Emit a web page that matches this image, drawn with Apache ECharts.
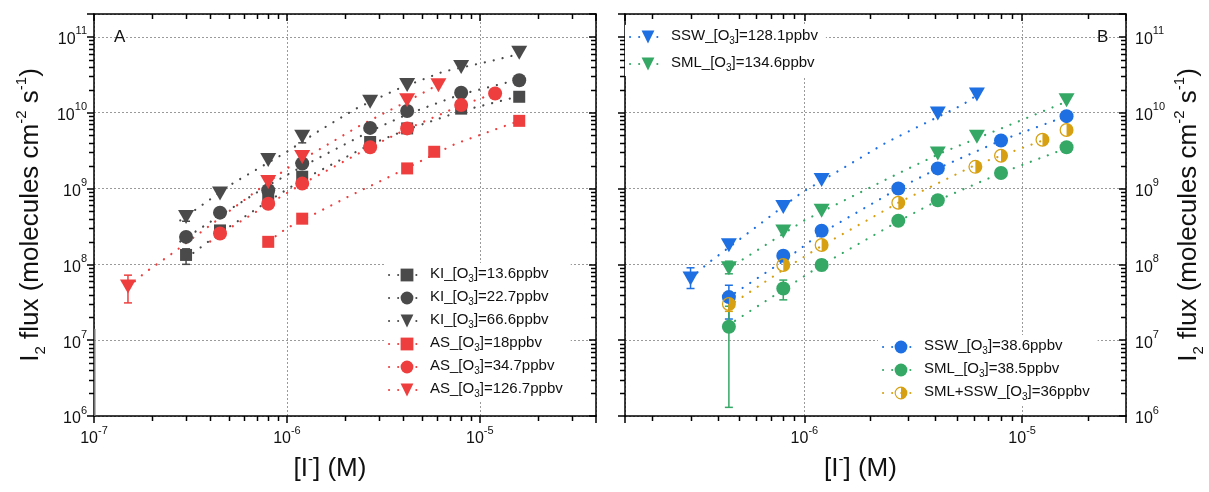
<!DOCTYPE html>
<html>
<head>
<meta charset="utf-8">
<script src="https://cdn.jsdelivr.net/npm/echarts@6.0.0/dist/echarts.min.js"></script>
<style>
  html, body { margin: 0; background: #fff; }
  #chart { width: 1209px; height: 492px; }
</style>
</head>
<body>
<div id="chart"></div>
<script>
// ---- panel A: KI and AS ----
const kiLow = [[3e-7, 1.33e8], [4.5e-7, 2.8e8], [8e-7, 7.4e8], [1.2e-6, 1.43e9], [2.7e-6, 4.1e9], [4.2e-6, 6.2e9], [8e-6, 1.13e10], [1.6e-5, 1.62e10]];
const kiMid = [[3e-7, 2.3e8], [4.5e-7, 4.8e8], [8e-7, 9.5e8], [1.2e-6, 2.14e9], [2.7e-6, 6.3e9], [4.2e-6, 1.05e10], [8e-6, 1.83e10], [1.6e-5, 2.68e10]];
const kiHigh = [[3e-7, 4.2e8], [4.5e-7, 8.6e8], [8e-7, 2.37e9], [1.2e-6, 4.8e9], [2.7e-6, 1.39e10], [4.2e-6, 2.31e10], [8e-6, 4.0e10], [1.6e-5, 6.15e10]];
const asLow = [[8e-7, 1.98e8], [1.2e-6, 4.0e8], [4.2e-6, 1.84e9], [5.8e-6, 3.05e9], [1.6e-5, 7.8e9]];
const asMid = [[4.5e-7, 2.55e8], [8e-7, 6.3e8], [1.2e-6, 1.16e9], [2.7e-6, 3.5e9], [4.2e-6, 6.2e9], [8e-6, 1.26e10], [1.2e-5, 1.79e10]];
const asHigh = [[1.5e-7, 5.1e7], [8e-7, 1.22e9], [1.2e-6, 2.6e9], [4.2e-6, 1.46e10], [6.1e-6, 2.3e10]];

// dotted fit curves
const kiLowFit = [[3e-7, 1.2e8], [4.5e-7, 2.6e8], [8e-7, 6.8e8], [1.2e-6, 1.3e9], [2.7e-6, 3.8e9], [4.2e-6, 6.0e9], [8e-6, 1.05e10], [1.6e-5, 1.65e10]];
const kiMidFit = [[2.8e-7, 2.0e8], [4.5e-7, 4.4e8], [8e-7, 1.1e9], [1.2e-6, 1.95e9], [2.7e-6, 5.7e9], [4.2e-6, 9.5e9], [8e-6, 1.75e10], [1.6e-5, 2.75e10]];
const kiHighFit = [[2.8e-7, 3.8e8], [5.3e-7, 1.19e9], [1e-6, 3.05e9], [1.44e-6, 5.6e9], [2.28e-6, 1.13e10], [3.7e-6, 2.02e10], [6.5e-6, 3.49e10], [1.19e-5, 4.92e10], [1.63e-5, 6.0e10]];
const asLowFit = [[8e-7, 2.0e8], [1e-6, 3.0e8], [2.1e-6, 7.9e8], [3.4e-6, 1.43e9], [7.5e-6, 3.9e9], [1.42e-5, 7.0e9], [1.6e-5, 7.8e9]];
const asMidFit = [[4e-7, 2.0e8], [4.5e-7, 2.5e8], [8e-7, 6.2e8], [1.2e-6, 1.15e9], [2.7e-6, 3.5e9], [4.2e-6, 6.1e9], [8e-6, 1.25e10], [1.2e-5, 1.8e10]];
const asHighFit = [[1.5e-7, 5.0e7], [1.84e-7, 7.8e7], [2.48e-7, 1.33e8], [1e-6, 1.84e9], [2.4e-6, 6.8e9], [3.86e-6, 1.26e10], [6.2e-6, 2.4e10]];

// error bars [x, low, high]
const kiLowErr = [[3e-7, 1.0e8, 1.6e8]];
const kiHighErr = [[3e-7, 3.7e8, 4.8e8], [1.2e-6, 4.0e9, 5.4e9]];
const asHighErr = [[1.5e-7, 3.1e7, 7.2e7]];
const edgeErr = [[1e-7, 1e6, 1.4e7]];

// ---- panel B: SSW / SML ----
const sswHigh = [[3e-7, 6.5e7], [4.5e-7, 1.79e8], [8e-7, 5.7e8], [1.2e-6, 1.29e9], [4.1e-6, 9.75e9], [6.2e-6, 1.74e10]];
const smlHigh = [[4.5e-7, 8.9e7], [8e-7, 2.7e8], [1.2e-6, 5.1e8], [4.1e-6, 2.9e9], [6.2e-6, 4.8e9], [1.6e-5, 1.46e10]];
const sswLow = [[4.5e-7, 3.7e7], [8e-7, 1.3e8], [1.2e-6, 2.77e8], [2.7e-6, 1.0e9], [4.1e-6, 1.84e9], [8e-6, 4.3e9], [1.6e-5, 9.0e9]];
const smlLow = [[4.5e-7, 1.5e7], [8e-7, 4.8e7], [1.2e-6, 9.8e7], [2.7e-6, 3.75e8], [4.1e-6, 7.0e8], [8e-6, 1.6e9], [1.6e-5, 3.5e9]];
const mix = [[4.5e-7, 3.0e7], [8e-7, 9.8e7], [1.2e-6, 1.8e8], [2.7e-6, 6.5e8], [6.1e-6, 1.93e9], [8e-6, 2.7e9], [1.24e-5, 4.4e9], [1.6e-5, 5.9e9]];

const sswHighFit = [[3e-7, 6.5e7], [3.6e-7, 1.03e8], [5e-7, 2.1e8], [9.7e-7, 8.8e8], [2.4e-6, 4.1e9], [5.3e-6, 1.26e10], [6.2e-6, 1.7e10]];
const smlHighFit = [[4.8e-7, 1.0e8], [1e-6, 3.8e8], [2.7e-6, 1.58e9], [4.2e-6, 2.9e9], [1.05e-5, 8.5e9], [1.6e-5, 1.4e10]];
const sswLowFit = [[4.8e-7, 4.2e7], [8e-7, 1.1e8], [1.2e-6, 2.6e8], [2.7e-6, 1.0e9], [4.2e-6, 1.9e9], [8e-6, 4.3e9], [1.6e-5, 9.0e9]];
const smlLowFit = [[4.8e-7, 1.8e7], [1e-6, 7.0e7], [1.2e-6, 9.8e7], [2.7e-6, 3.7e8], [4.2e-6, 7.2e8], [8e-6, 1.6e9], [1.6e-5, 3.4e9]];
const mixFit = [[4.8e-7, 3.2e7], [8e-7, 8.5e7], [1.2e-6, 1.75e8], [2.7e-6, 6.5e8], [6e-6, 2.0e9], [8e-6, 2.7e9], [1.3e-5, 4.5e9]];

const sswHighErr = [[3e-7, 4.8e7, 9.0e7]];
const smlHighErr = [[4.5e-7, 7.5e7, 1.1e8]];
const sswLowErr = [[4.5e-7, 1.9e7, 5.3e7], [8e-7, 1.1e8, 1.5e8]];
const smlLowErr = [[4.5e-7, 1.3e6, 2.8e7], [8e-7, 3.4e7, 6.2e7], [1.2e-6, 8.3e7, 1.15e8]];
const mixErr = [[4.5e-7, 2.4e7, 4.3e7]];

const namesA = ["KI_[O3]=13.6ppbv", "KI_[O3]=22.7ppbv", "KI_[O3]=66.6ppbv", "AS_[O3]=18ppbv", "AS_[O3]=34.7ppbv", "AS_[O3]=126.7ppbv"];
const namesBTop = ["SSW_[O3]=128.1ppbv", "SML_[O3]=134.6ppbv"];
const namesBBottom = ["SSW_[O3]=38.6ppbv", "SML_[O3]=38.5ppbv", "SML+SSW_[O3]=36ppbv"];

// axis ranges
const xRangeA = [1e-7, 4e-5];
const xRangeB = [1.5e-7, 3e-5];
const yRange = [1e6, 2e11];
const minorMantissa = [2, 3, 4, 5, 6, 7, 8, 9];

const FONT = "'Liberation Sans', Arial, Helvetica, sans-serif";
const grey = "#4a4a4a", red = "#ef3e3e", blue = "#1d6fe2", green = "#35a866", gold = "#d6a012";

const gridA = { left: 94, top: 14, width: 502, height: 402 };
const gridB = { left: 625, top: 14, width: 501, height: 402 };

const SQ = "rect";
const CI = "circle";
const TRI = "path://M0,0L10,0L5,8.66Z";
// ring + right half filled
const HALF = "path://M10,0A10,10 0 1,1 10,20A10,10 0 1,1 10,0Z M10,1.8A8.2,8.2 0 1,0 10,18.2A8.2,8.2 0 1,0 10,1.8Z M10,1.8A8.2,8.2 0 0,1 10,18.2Z";

// minor tick positions (2..9 x 10^n) inside a range
const minorValues = range => {
    const out = [];
    const e0 = Math.floor(Math.log10(range[0]));
    const e1 = Math.ceil(Math.log10(range[1]));
    for (let e = e0; e <= e1; e++) {
        for (const m of minorMantissa) {
            const v = m * Math.pow(10, e);
            if (v > range[0] * 1.0001 && v < range[1] * 0.9999) out.push(v);
        }
    }
    return out;
};

const fitLine = (name, data, color, symbol, ax) => ({
    name, type: "line", xAxisIndex: ax, yAxisIndex: ax, data,
    symbol, showSymbol: false, symbolSize: 13, silent: true, z: 1,
    lineStyle: { color, width: 2.2, type: [0.1, 9], cap: "round" },
    itemStyle: { color }
});

const points = (name, data, color, symbol, size, ax) => ({
    name, type: "scatter", xAxisIndex: ax, yAxisIndex: ax, data,
    symbol, symbolSize: size, z: 3,
    itemStyle: { color, opacity: 1 }
});

const errBars = (data, color, ax, cap = 4, width = 1.5) => ({
    type: "custom", xAxisIndex: ax, yAxisIndex: ax, data, z: 2, clip: true,
    encode: { x: 0, y: [1, 2] },
    itemStyle: { color },
    renderItem: (params, api) => {
        const x = api.value(0);
        const lo = api.coord([x, api.value(1)]);
        const hi = api.coord([x, api.value(2)]);
        const st = { stroke: color, lineWidth: width };
        const kids = [{ type: "line", shape: { x1: lo[0], y1: lo[1], x2: hi[0], y2: hi[1] }, style: st }];
        if (cap > 0) {
            kids.push({ type: "line", shape: { x1: lo[0] - cap, y1: lo[1], x2: lo[0] + cap, y2: lo[1] }, style: st });
            kids.push({ type: "line", shape: { x1: hi[0] - cap, y1: hi[1], x2: hi[0] + cap, y2: hi[1] }, style: st });
        }
        return { type: "group", children: kids };
    }
});

// 10^n tick labels
const sciLabel = v => {
    const e = Math.log10(v);
    if (Math.abs(e - Math.round(e)) > 1e-6) return "";
    return "{b|10}{p|" + Math.round(e) + "}";
};
const tickRich = {
    b: { fontSize: 16, lineHeight: 22, verticalAlign: "bottom", fontFamily: FONT, color: "#111" },
    p: { fontSize: 11, lineHeight: 11, verticalAlign: "top", fontFamily: FONT, color: "#111" }
};
const nameRich = {
    b: { fontSize: 26, lineHeight: 34, fontFamily: FONT, color: "#111" },
    p: { fontSize: 15, lineHeight: 15, verticalAlign: "top", fontFamily: FONT, color: "#111" },
    s: { fontSize: 15, lineHeight: 15, verticalAlign: "bottom", fontFamily: FONT, color: "#111" }
};
const legendRich = {
    b: { fontSize: 15, lineHeight: 18, verticalAlign: "top", fontFamily: FONT, color: "#111" },
    s: { fontSize: 10, lineHeight: 10, verticalAlign: "bottom", fontFamily: FONT, color: "#111" }
};
const legendFmt = name => "{b|" + name.replace("[O3]", "[O}{s|3}{b|]") + "}";

const splitStyle = { show: true, lineStyle: { color: "#9a9a9a", width: 1, type: [2, 2] } };
const axisLineStyle = { show: true, lineStyle: { color: "#000", width: 1.5 } };

const xAxisFor = (grid, range, top) => ({
    type: "log", logBase: 10, gridIndex: grid, min: range[0], max: range[1],
    position: top ? "top" : "bottom",
    axisLine: axisLineStyle,
    axisTick: { show: true, inside: !!top, length: 7, lineStyle: { color: "#000", width: 1.5 } },
    axisLabel: top ? { show: false } : { formatter: sciLabel, margin: 9, rich: tickRich },
    splitLine: top ? { show: false } : splitStyle,
    name: top ? "" : "{b|[I}{p|-}{b|] (M)}",
    nameLocation: "middle", nameGap: 36,
    nameTextStyle: { rich: nameRich, padding: [0, 30, 0, 0] }
});

const yAxisFor = (grid, right, labels, withSplit) => ({
    type: "log", logBase: 10, gridIndex: grid, min: yRange[0], max: yRange[1],
    position: right ? "right" : "left",
    axisLine: axisLineStyle,
    axisTick: { show: true, inside: right, length: 7, lineStyle: { color: "#000", width: 1.5 } },
    axisLabel: labels ? { formatter: sciLabel, margin: right ? 9 : 7, rich: tickRich } : { show: false },
    splitLine: withSplit ? splitStyle : { show: false },
    name: labels ? "{b|I}{s|2}{b| flux (molecules cm}{p|-2}{b| s}{p|-1}{b|)}" : "",
    nameLocation: "middle", nameGap: 46, nameRotate: 90,
    nameTextStyle: { rich: nameRich }
});

const legendBase = {
    orient: "vertical", itemWidth: 36, itemHeight: 16, itemGap: 5,
    selectedMode: false, backgroundColor: "#fff", padding: [3, 8, 3, 4],
    formatter: legendFmt, textStyle: { rich: legendRich }
};

const chart = echarts.init(document.getElementById("chart"));
chart.setOption({
    animation: false,
    backgroundColor: "#fff",
    title: [
        { text: "A", left: 109, top: 24, textStyle: { fontSize: 17, fontWeight: "normal", color: "#111", fontFamily: FONT } },
        { text: "B", left: 1092, top: 24, textStyle: { fontSize: 17, fontWeight: "normal", color: "#111", fontFamily: FONT } }
    ],
    grid: [gridA, gridB],
    xAxis: [
        xAxisFor(0, xRangeA, false),
        xAxisFor(1, xRangeB, false),
        xAxisFor(0, xRangeA, true),
        xAxisFor(1, xRangeB, true)
    ],
    yAxis: [
        yAxisFor(0, false, true, true),
        yAxisFor(1, false, false, true),
        yAxisFor(0, true, false, false),
        yAxisFor(1, true, true, false)
    ],
    legend: [
        Object.assign({}, legendBase, { data: namesA, left: 384, top: 263 }),
        Object.assign({}, legendBase, { data: namesBTop, left: 625, top: 25, itemGap: 9 }),
        Object.assign({}, legendBase, { data: namesBBottom, left: 878, top: 335 })
    ],
    series: [
        // panel A fits first so the legend takes the line icon
        fitLine(namesA[0], kiLowFit, grey, SQ, 0),
        fitLine(namesA[1], kiMidFit, grey, CI, 0),
        fitLine(namesA[2], kiHighFit, grey, TRI, 0),
        fitLine(namesA[3], asLowFit, red, SQ, 0),
        fitLine(namesA[4], asMidFit, red, CI, 0),
        fitLine(namesA[5], asHighFit, red, TRI, 0),
        errBars(edgeErr, "#777", 0, 0, 3),
        errBars(kiLowErr, grey, 0),
        errBars(kiHighErr, grey, 0),
        errBars(asHighErr, red, 0),
        points(namesA[0], kiLow, grey, SQ, 12, 0),
        points(namesA[1], kiMid, grey, CI, 14, 0),
        points(namesA[2], kiHigh, grey, TRI, [16, 14], 0),
        points(namesA[3], asLow, red, SQ, 12, 0),
        points(namesA[4], asMid, red, CI, 14, 0),
        points(namesA[5], asHigh, red, TRI, [16, 14], 0),

        // panel B
        fitLine(namesBTop[0], sswHighFit, blue, TRI, 1),
        fitLine(namesBTop[1], smlHighFit, green, TRI, 1),
        fitLine(namesBBottom[0], sswLowFit, blue, CI, 1),
        fitLine(namesBBottom[1], smlLowFit, green, CI, 1),
        fitLine(namesBBottom[2], mixFit, gold, HALF, 1),
        errBars(sswHighErr, blue, 1),
        errBars(smlHighErr, green, 1),
        errBars(sswLowErr, blue, 1),
        errBars(smlLowErr, green, 1),
        errBars(mixErr, gold, 1),
        points(namesBTop[0], sswHigh, blue, TRI, [16, 14], 1),
        points(namesBTop[1], smlHigh, green, TRI, [16, 14], 1),
        points(namesBBottom[0], sswLow, blue, CI, 14, 1),
        points(namesBBottom[1], smlLow, green, CI, 14, 1),
        points(namesBBottom[2], mix, gold, HALF, 14, 1)
    ]
});

// log minor ticks, placed with the axes' own scales:
// outward on bottom/left, inward on top/right
const minorTicks = [];
const L = 5;
const crisp = p => Math.round(p) + 0.5;
const tickLine = (x1, y1, x2, y2) => ({
    type: "line", silent: true, z: 100,
    shape: { x1, y1, x2, y2 },
    style: { stroke: "#000", lineWidth: 1.5 }
});
[[0, gridA, xRangeA], [1, gridB, xRangeB]].forEach(([ax, g, xr]) => {
    const bottom = g.top + g.height;
    const right = g.left + g.width;
    minorValues(xr).forEach(v => {
        const px = crisp(chart.convertToPixel({ xAxisIndex: ax }, v));
        minorTicks.push(tickLine(px, bottom, px, bottom + L));
        minorTicks.push(tickLine(px, g.top, px, g.top + L));
    });
    minorValues(yRange).forEach(v => {
        const py = crisp(chart.convertToPixel({ yAxisIndex: ax }, v));
        minorTicks.push(tickLine(g.left - L, py, g.left, py));
        minorTicks.push(tickLine(right - L, py, right, py));
    });
});
chart.setOption({ graphic: { elements: minorTicks } });
</script>
</body>
</html>
